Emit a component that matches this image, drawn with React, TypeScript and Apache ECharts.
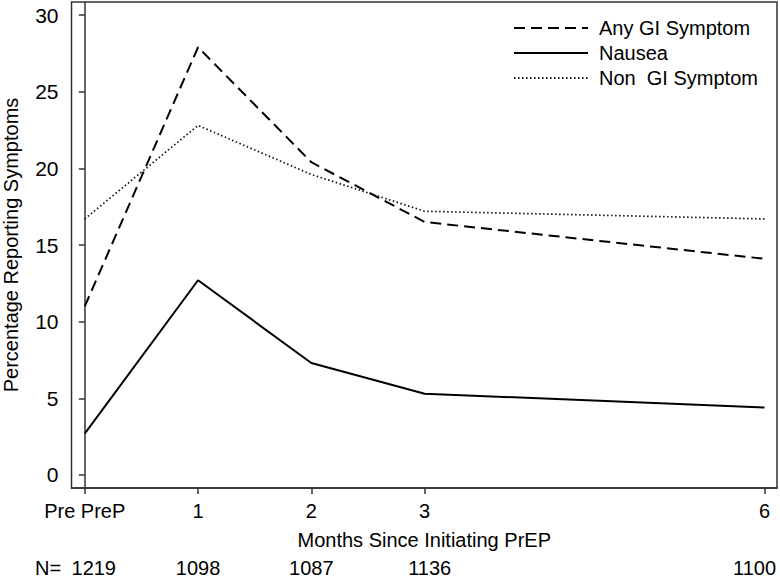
import React, { useEffect, useRef } from "react";
import * as echarts from "echarts";

const xPositions = [0, 1, 2, 3, 6];
const xLabels = ["Pre PreP", "1", "2", "3", "6"];
const nValues = ["1219", "1098", "1087", "1136", "1100"];
const yTicks = [0, 5, 10, 15, 20, 25, 30];

const anyGI = [11.0, 27.9, 20.4, 16.5, 14.1];
const nausea = [2.7, 12.7, 7.3, 5.3, 4.4];
const nonGI = [16.7, 22.8, 19.6, 17.2, 16.7];

const FONT = "'Liberation Sans', Arial, Helvetica, sans-serif";
const FS = 20;

const pair = (vals: number[]) => xPositions.map((x, i) => [x, vals[i]]);

export default function App() {
  const ref = useRef<HTMLDivElement>(null);
  useEffect(() => {
    document.body.style.margin = "0";
    const chart = echarts.init(ref.current!, null, { renderer: "svg" });
    const axisColor = "#333";
    const base = { fontSize: FS, fontFamily: FONT, color: "#000" };
    const nRich: any = {
      l: { ...base, padding: [0, 0, 0, 18] },
      c: { ...base },
      cr: { ...base, padding: [0, 0, 0, 10] },
      r: { ...base, padding: [0, 20, 0, 0] },
    };
    const nStyle = ["l", "c", "c", "cr", "r"];
    chart.setOption({
      animation: false,
      backgroundColor: "#fff",
      textStyle: { fontFamily: FONT, color: "#000" },
      grid: {
        left: 71.5,
        right: 3,
        top: 2,
        bottom: 92,
        show: true,
        borderColor: axisColor,
        borderWidth: 1.5,
        outerBoundsMode: "none",
        containLabel: false,
      },
      legend: {
        orient: "vertical",
        left: 508,
        top: 13,
        itemWidth: 74,
        itemHeight: 14,
        itemGap: 5,
        itemStyle: { opacity: 0 },
        textStyle: { ...base, lineHeight: 20, padding: [0, 0, 0, 6] },
        data: ["Any GI Symptom", "Nausea", "Non  GI Symptom"],
      },
      xAxis: [
        {
          type: "value",
          min: -0.117,
          max: 6.11,
          name: "Months Since Initiating PrEP",
          nameLocation: "middle",
          nameGap: 42,
          nameTextStyle: { ...base },
          axisLine: { show: true, onZero: false, lineStyle: { color: axisColor, width: 1.5 } },
          axisTick: { show: true, length: 6, customValues: xPositions, lineStyle: { color: axisColor, width: 1.5 } },
          axisLabel: {
            ...base,
            customValues: xPositions,
            margin: 13,
            formatter: (v: number) => xLabels[xPositions.indexOf(v)] ?? "",
          },
          splitLine: { show: false },
        },
        {
          type: "value",
          position: "bottom",
          offset: 70,
          min: -0.117,
          max: 6.11,
          axisLine: { show: false },
          axisTick: { show: false },
          splitLine: { show: false },
          axisLabel: {
            ...base,
            customValues: xPositions,
            margin: 0,
            rich: nRich,
            formatter: (v: number) => {
              const i = xPositions.indexOf(v);
              return i < 0 ? "" : `{${nStyle[i]}|${nValues[i]}}`;
            },
          },
        },
      ],
      yAxis: {
        type: "value",
        min: -0.85,
        max: 30.85,
        name: "Percentage Reporting Symptoms",
        nameLocation: "middle",
        nameGap: 51,
        nameTextStyle: { ...base },
        axisLine: { show: true, lineStyle: { color: axisColor, width: 1.5 } },
        axisTick: { show: true, length: 6, customValues: yTicks, lineStyle: { color: axisColor, width: 1.5 } },
        axisLabel: {
          ...base,
          fontSize: 21,
          customValues: yTicks,
          margin: 13,
        },
        splitLine: { show: false },
      },
      graphic: [
        {
          type: "text",
          left: 35,
          top: 558,
          style: { text: "N=", fontSize: FS, fontFamily: FONT, fill: "#000" },
        },
      ],
      series: [
        {
          name: "Any GI Symptom",
          type: "line",
          data: pair(anyGI),
          symbol: "none",
          lineStyle: { color: "#000", width: 2, type: [11, 6] },
          itemStyle: { color: "#000" },
        },
        {
          name: "Nausea",
          type: "line",
          data: pair(nausea),
          symbol: "none",
          lineStyle: { color: "#000", width: 2, type: "solid" },
          itemStyle: { color: "#000" },
        },
        {
          name: "Non  GI Symptom",
          type: "line",
          data: pair(nonGI),
          symbol: "none",
          lineStyle: { color: "#111", width: 1.7, type: [1.5, 2.5] },
          itemStyle: { color: "#111" },
        },
      ],
    });
    return () => chart.dispose();
  }, []);
  return <div ref={ref} style={{ position: "absolute", left: 0, top: 0, width: 780, height: 580 }} />;
}
